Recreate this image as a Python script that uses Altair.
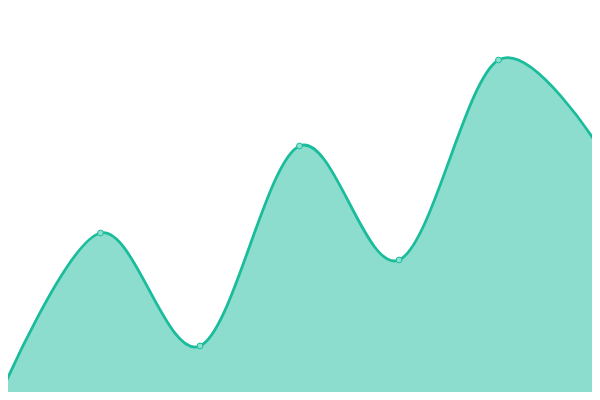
import altair as alt
import pandas as pd

xs = [0, 1, 2, 3, 4, 5, 6]
values = [7, 167, 54, 254, 140, 340, 254]

df = pd.DataFrame({"x": xs, "v": values})

LINE = "#1abc9c"

x_enc = alt.X("x:Q", axis=None, scale=alt.Scale(domain=[0, 6], range=[-7, 590], nice=False, zero=False))
y_enc = alt.Y("v:Q", axis=None, scale=alt.Scale(domain=[0, 400], range=[392, -8], nice=False, zero=False))

base = alt.Chart(df)

area = base.mark_area(interpolate="cardinal", color=LINE, opacity=0.5).encode(
    x=x_enc, y=y_enc, y2=alt.datum(0)
)
line = base.mark_line(interpolate="cardinal", color=LINE, strokeWidth=2.8).encode(x=x_enc, y=y_enc)
pts = base.mark_point(filled=True, size=34, fill="#8ce0d0", stroke=LINE, strokeWidth=1, opacity=1).encode(
    x=x_enc, y=y_enc
)

chart = (
    alt.layer(area, line, pts)
    .properties(width=584, height=384, autosize=alt.AutoSizeParams(type="none"), padding=0)
    .configure_view(stroke=None)
)

chart.save("out.html", embed_options={"renderer": "svg", "actions": False})
